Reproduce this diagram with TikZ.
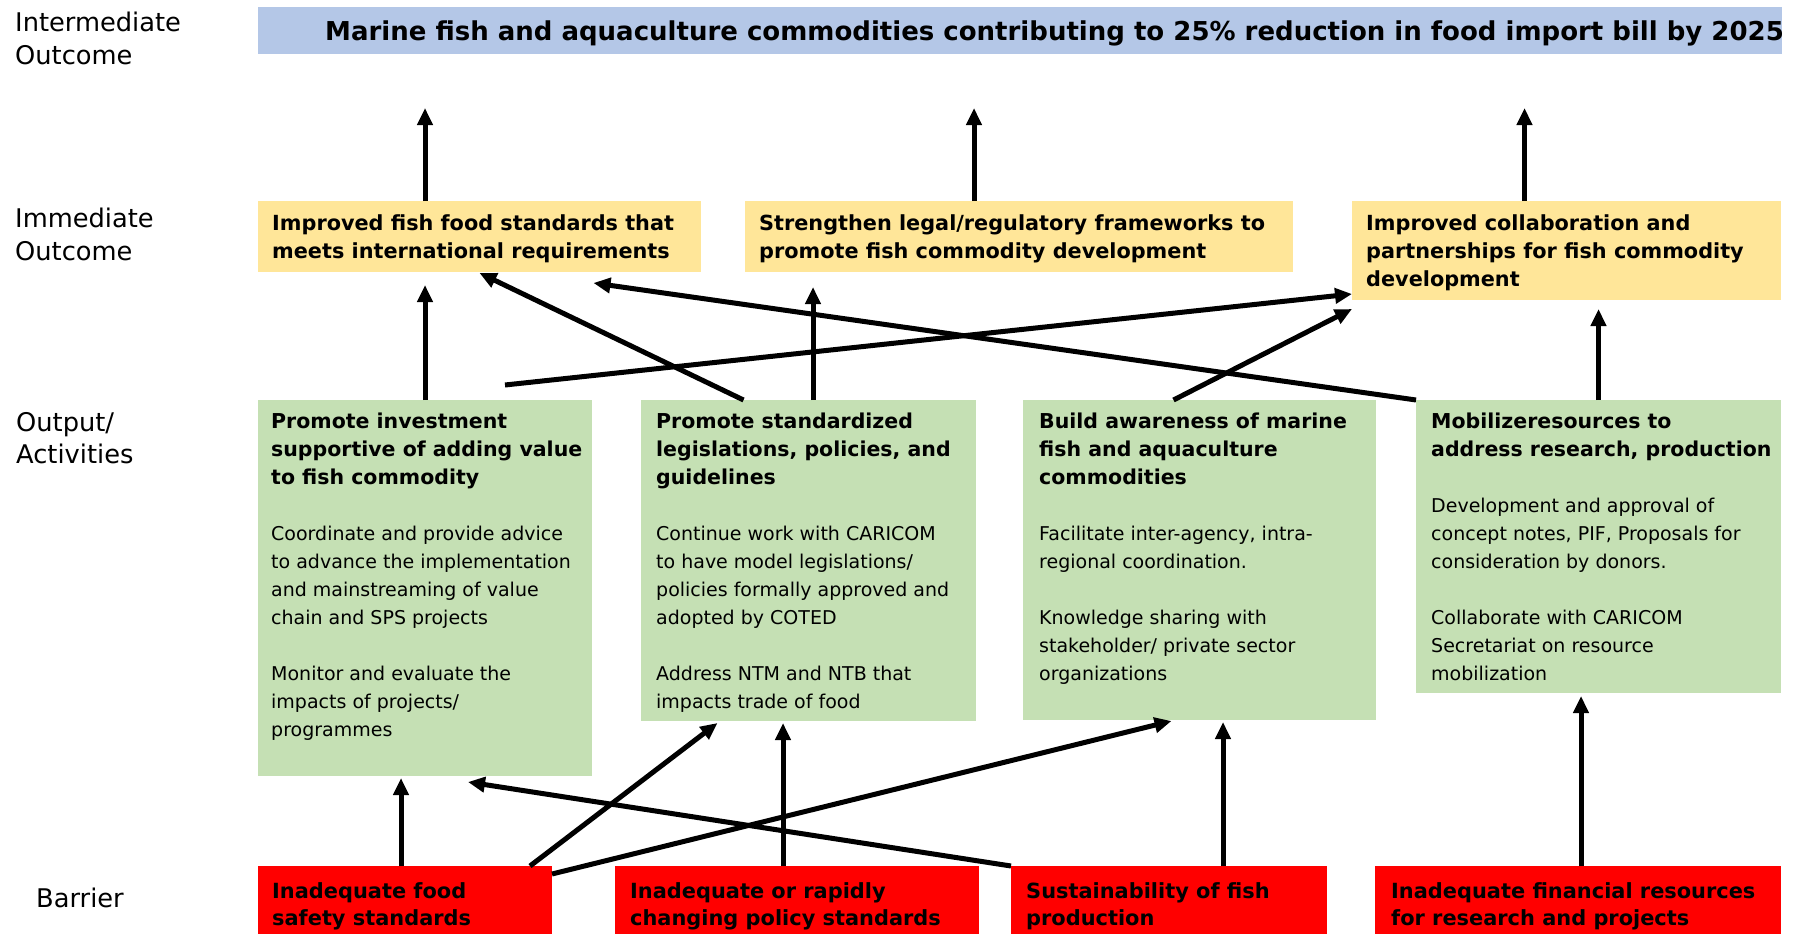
\documentclass[tikz,border=0pt]{standalone}
\usepackage{fontspec}
\setmainfont{DejaVu Sans}
\usetikzlibrary{arrows.meta}

\definecolor{goalblue}{HTML}{B4C7E7}
\definecolor{immyellow}{HTML}{FFE699}
\definecolor{outgreen}{HTML}{C5E0B4}
\definecolor{barred}{HTML}{FF0000}

\newcommand{\lblfont}{\fontsize{25.7}{33}\selectfont}
\newcommand{\goalfont}{\fontsize{26}{30}\selectfont\bfseries}
\newcommand{\immfont}{\fontsize{20.8}{28}\selectfont\bfseries}
\newcommand{\barfont}{\fontsize{20.9}{27}\selectfont\bfseries}
\newcommand{\bodyfont}{\fontsize{19}{28}\selectfont}
\newcommand{\head}[1]{{\fontsize{20.5}{28}\selectfont\bfseries #1}}

\tikzset{
    box/.style={anchor=north west, inner sep=0pt, outer sep=0pt},
    goalbox/.style={box, fill=goalblue},
    immbox/.style={box, fill=immyellow},
    outbox/.style={box, fill=outgreen},
    barbox/.style={box, fill=barred},
    % anchored at the baseline of the last line
    boxtext/.style={anchor=base west, align=left, inner sep=0pt},
    link/.style={line width=5pt, -{Triangle[length=17pt, width=15pt]}}
}

\begin{document}
\begin{tikzpicture}[x=1pt, y=-1pt]
    \useasboundingbox (0,0) rectangle (1809,934);
    % row labels
    \node[boxtext, font=\lblfont] (lint) at (15,65) {Intermediate\\Outcome};
    \node[boxtext, font=\lblfont] (limm) at (15,260) {Immediate\\Outcome};
    \node[boxtext, font=\lblfont] (lout) at (16,463) {Output/\\[-1pt]Activities};
    \node[boxtext, font=\lblfont] (lbar) at (36,907) {Barrier};
    % intermediate outcome
    \node[goalbox, minimum width=1524pt, minimum height=47pt] (goal) at (258,7) {};
    \node[boxtext, font=\goalfont] (goaltxt) at (325,41) {Marine fish and aquaculture commodities contributing to 25\% reduction in food import bill by 2025};
    % immediate outcomes
    \node[immbox, minimum width=443pt, minimum height=71pt] (y1) at (258,201) {};
    \node[immbox, minimum width=548pt, minimum height=71pt] (y2) at (745,201) {};
    \node[immbox, minimum width=429pt, minimum height=99pt] (y3) at (1352,201) {};
    \node[boxtext, font=\immfont] (y1txt) at (272,258) {Improved fish food standards that\\meets international requirements};
    \node[boxtext, font=\immfont] (y2txt) at (759,258) {Strengthen legal/regulatory frameworks to\\promote fish commodity development};
    \node[boxtext, font=\immfont] (y3txt) at (1366,286) {Improved collaboration and\\partnerships for fish commodity\\development};
    % outputs / activities
    \node[outbox, minimum width=334pt, minimum height=376pt] (g1) at (258,400) {};
    \node[outbox, minimum width=335pt, minimum height=321pt] (g2) at (641,400) {};
    \node[outbox, minimum width=353pt, minimum height=320pt] (g3) at (1023,400) {};
    \node[outbox, minimum width=365pt, minimum height=293pt] (g4) at (1416,400) {};
    \node[boxtext, font=\bodyfont] (g1txt) at (271,736) {\head{Promote investment}\\\head{supportive of adding value}\\\head{to fish commodity}\\[28pt]
        Coordinate and provide advice\\to advance the implementation\\and mainstreaming of value\\chain and SPS projects\\[28pt]
        Monitor and evaluate the\\impacts of projects/\\programmes};
    \node[boxtext, font=\bodyfont] (g2txt) at (656,708) {\head{Promote standardized}\\\head{legislations, policies, and}\\\head{guidelines}\\[28pt]
        Continue work with CARICOM\\to have model legislations/\\policies formally approved and\\adopted by COTED\\[28pt]
        Address NTM and NTB that\\impacts trade of food};
    \node[boxtext, font=\bodyfont] (g3txt) at (1039,680) {\head{Build awareness of marine}\\\head{fish and aquaculture}\\\head{commodities}\\[28pt]
        Facilitate inter-agency, intra-\\regional coordination.\\[28pt]
        Knowledge sharing with\\stakeholder/ private sector\\organizations};
    \node[boxtext, font=\bodyfont] (g4txt) at (1431,680) {\head{Mobilizeresources to}\\\head{address research, production}\\[28pt]
        Development and approval of\\concept notes, PIF, Proposals for\\consideration by donors.\\[28pt]
        Collaborate with CARICOM\\Secretariat on resource\\mobilization};
    % barriers
    \node[barbox, minimum width=294pt, minimum height=68pt] (r1) at (258,866) {};
    \node[barbox, minimum width=364pt, minimum height=68pt] (r2) at (615,866) {};
    \node[barbox, minimum width=316pt, minimum height=68pt] (r3) at (1011,866) {};
    \node[barbox, minimum width=406pt, minimum height=68pt] (r4) at (1375,866) {};
    \node[boxtext, font=\barfont] (r1txt) at (272,925) {Inadequate food\\safety standards};
    \node[boxtext, font=\barfont] (r2txt) at (630,925) {Inadequate or rapidly\\changing policy standards};
    \node[boxtext, font=\barfont] (r3txt) at (1026,925) {Sustainability of fish\\production};
    \node[boxtext, font=\barfont] (r4txt) at (1391,925) {Inadequate financial resources\\for research and projects};
    % immediate -> intermediate
    \draw[link, shorten >=54pt] (y1.north -| g1.north) -- (goal.south -| g1.north);
    \draw[link, shorten >=54pt] ([xshift=-45pt]y2.north) -- ([xshift=-45pt]y2.north |- goal.south);
    \draw[link, shorten >=54pt] ([xshift=-42pt]y3.north) -- ([xshift=-42pt]y3.north |- goal.south);
    % outputs -> immediate
    \draw[link, shorten >=13pt] (g1.north) -- (g1.north |- y1.south);
    \draw[link] ([xshift=-65pt]g2.north) -- ([yshift=-1pt]y1.south);
    \draw[link, shorten >=15pt] ([xshift=4.5pt]g2.north) -- ([xshift=4.5pt]g2.north |- y2.south);
    \draw[link] ([xshift=80pt, yshift=15pt]g1.north) -- ([yshift=6pt]y3.south west);
    \draw[link] (g4.north west) -- ([xshift=114pt, yshift=-11pt]y1.south);
    \draw[link] ([xshift=-26pt]g3.north) -- ([yshift=-9pt]y3.south west);
    \draw[link, shorten >=9pt] (g4.north) -- (g4.north |- y3.south);
    % barriers -> outputs
    \draw[link, shorten >=2pt] ([xshift=-4pt]r1.north) -- ([xshift=-4pt]r1.north |- g1.south);
    \draw[link] (r3.north west) -- ([xshift=43pt, yshift=-6pt]g1.south);
    \draw[link] ([xshift=-22pt]r1.north east) -- ([xshift=-91pt, yshift=-2pt]g2.south);
    \draw[link] ([yshift=-8pt]r1.north east) -- ([xshift=-28pt, yshift=-1pt]g3.south);
    \draw[link, shorten >=2pt] ([xshift=-14pt]r2.north) -- ([xshift=-14pt]r2.north |- g2.south);
    \draw[link, shorten >=2pt] ([xshift=54pt]r3.north) -- ([xshift=54pt]r3.north |- g3.south);
    \draw[link, shorten >=3pt] ([xshift=3pt]r4.north) -- ([xshift=3pt]r4.north |- g4.south);
\end{tikzpicture}
\end{document}
